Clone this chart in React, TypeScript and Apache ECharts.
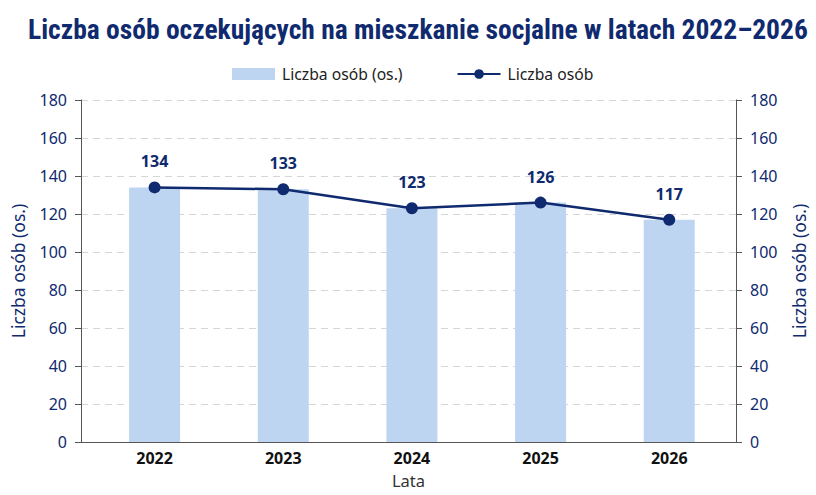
import React, { useEffect, useRef } from "react";
import * as echarts from "echarts";

const categories = ["2022", "2023", "2024", "2025", "2026"];
const barValues = [134, 133, 123, 126, 117];
const lineValues = [134, 133, 123, 126, 117];
const titleText = "Liczba osób oczekujących na mieszkanie socjalne w latach 2022–2026";
const barName = "Liczba osób (os.)";
const lineName = "Liczba osób";
const axisName = "Liczba osób (os.)";
const xName = "Lata";

const NAVY = "#0f2a6e";
const FONT = "'Noto Sans', 'Open Sans', sans-serif";

export default function App() {
  const ref = useRef<HTMLDivElement>(null);
  useEffect(() => {
    document.body.style.margin = "0";
    if (!ref.current) return;
    const chart = echarts.init(ref.current, null, { renderer: "svg" });
    const idx = categories.map((_, i) => i);
    const barData = barValues.map((v, i) => [i, v]);
    const lineData = lineValues.map((v, i) => [i, v]);
    const yAxisBase = (position: "left" | "right") => ({
      type: "value",
      position,
      min: 0,
      max: 180,
      interval: 20,
      name: axisName,
      nameLocation: "middle",
      nameGap: position === "left" ? 54 : 54,
      nameTextStyle: { color: NAVY, fontSize: 17.5, fontFamily: FONT },
      axisLine: { show: true, onZero: false, lineStyle: { color: "#555" } },
      axisTick: { show: true, length: 6, lineStyle: { color: "#555" } },
      axisLabel: { color: NAVY, fontSize: 16, fontFamily: FONT, margin: 14 },
      splitLine:
        position === "left"
          ? { show: true, lineStyle: { color: "#d6d6d6", type: [7, 5] } }
          : { show: false },
    });
    chart.setOption({
      animation: false,
      title: {
        text: titleText,
        left: 23,
        top: 10,
        textStyle: {
          color: NAVY,
          fontSize: 27.5,
          fontWeight: "bold",
          fontFamily: "'Liberation Sans Narrow', 'Roboto Condensed', Roboto, sans-serif",
        },
      },
      legend: {
        top: 61,
        left: 227,
        itemGap: 54,
        itemWidth: 43,
        itemHeight: 12,
        textStyle: { color: "#222", fontSize: 15.7, fontFamily: FONT, padding: [0, 0, 0, 2] },
        data: [
          { name: barName, icon: "rect" },
          { name: lineName },
        ],
      },
      grid: { left: 81, right: 80, top: 100, bottom: 53, outerBoundsMode: "none", containLabel: false },
      xAxis: {
        type: "value",
        min: -0.572,
        max: 4.519,
        name: xName,
        nameLocation: "middle",
        nameGap: 30,
        nameTextStyle: { color: "#333", fontSize: 16.5, fontFamily: FONT },
        axisLine: { show: true, onZero: false, lineStyle: { color: "#555" } },
        axisTick: { show: false },
        splitLine: { show: false },
        axisLabel: {
          customValues: idx,
          formatter: (v: number) => categories[Math.round(v)] ?? "",
          color: "#111",
          fontSize: 16,
          fontWeight: "bold",
          fontFamily: FONT,
          margin: 8,
        },
      },
      yAxis: [yAxisBase("left"), yAxisBase("right")],
      series: [
        {
          name: barName,
          type: "bar",
          data: barData,
          barWidth: 51,
          itemStyle: { color: "#bed5f2" },
          yAxisIndex: 0,
        },
        {
          name: lineName,
          type: "line",
          data: lineData,
          yAxisIndex: 0,
          symbol: "circle",
          symbolSize: 12,
          lineStyle: { color: NAVY, width: 2.5 },
          itemStyle: { color: NAVY },
          label: {
            show: true,
            position: "top",
            distance: 12,
            color: NAVY,
            fontSize: 16,
            fontWeight: "bold",
            fontFamily: FONT,
            formatter: (p: any) => String(p.value[1]),
          },
        },
      ],
    });
    return () => chart.dispose();
  }, []);
  return <div ref={ref} style={{ width: 816, height: 495 }} />;
}
